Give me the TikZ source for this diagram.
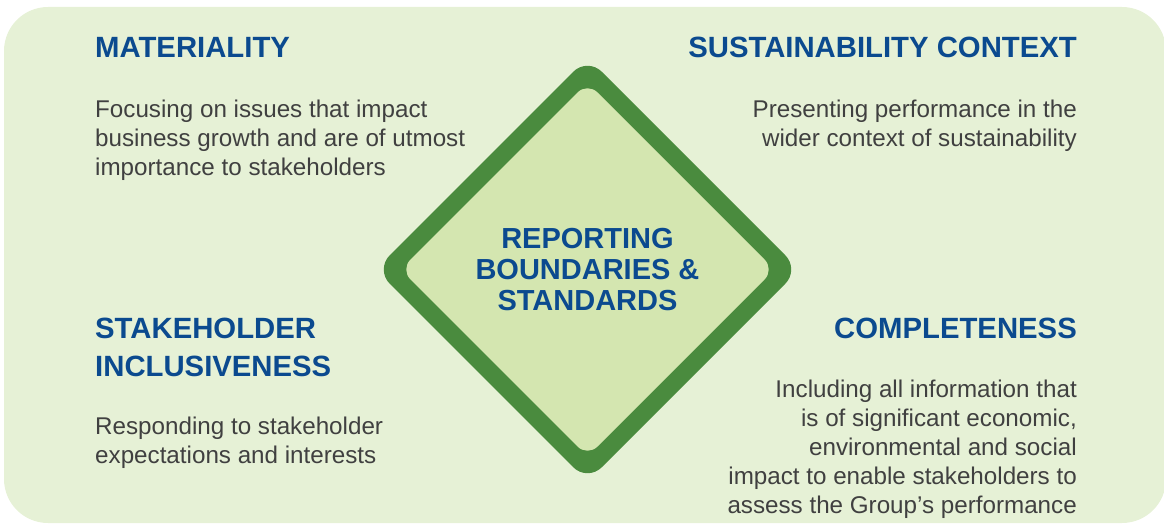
\documentclass[tikz,border=0pt]{standalone}
\usepackage{fontspec}
\setmainfont{Liberation Sans}
\definecolor{bggreen}{HTML}{E6F1D6}
\definecolor{ringgreen}{HTML}{4A8B3E}
\definecolor{innergreen}{HTML}{D4E6B0}
\definecolor{titleblue}{HTML}{0B4A8F}
\definecolor{bodygray}{HTML}{404040}
\begin{document}
\begin{tikzpicture}[x=1pt,y=-1pt,
  titletext/.style={font=\fontsize{29.3}{38}\selectfont\bfseries, text=titleblue, inner sep=0pt},
  bodytext/.style={font=\fontsize{24.2}{29}\selectfont, text=bodygray, inner sep=0pt},
  centertext/.style={font=\fontsize{29}{31}\selectfont\bfseries, text=titleblue, inner sep=0pt, align=center}]
\useasboundingbox (0,0) rectangle (1164,524);
% background panel
\fill[bggreen, rounded corners=44pt] (4,7) rectangle (1166,523);
% diamond ring and inner diamond
\coordinate (c) at (587.5,269.5);
\fill[ringgreen, rounded corners=20pt] (587.5,57.5) -- (799.5,269.5) -- (587.5,481.5) -- (375.5,269.5) -- cycle;
\fill[innergreen, rounded corners=14pt] (587.5,82.5) -- (774.5,269.5) -- (587.5,456.5) -- (400.5,269.5) -- cycle;
\node[centertext] (center) at (c) {REPORTING\\BOUNDARIES \&\\STANDARDS};
% materiality
\node[titletext, anchor=north west] (mat) at (95,37) {MATERIALITY};
\node[bodytext, anchor=north west, align=left] (matb) at (95,100) {Focusing on issues that impact\\business growth and are of utmost\\importance to stakeholders};
% sustainability context
\node[titletext, anchor=north east] (sus) at (1077,37) {SUSTAINABILITY CONTEXT};
\node[bodytext, anchor=north east, align=right] (susb) at (1077,100) {Presenting performance in the\\wider context of sustainability};
% stakeholder inclusiveness
\node[titletext, anchor=north west, align=left] (sta) at (95,318) {STAKEHOLDER\\INCLUSIVENESS};
\node[bodytext, anchor=north west, align=left] (stab) at (95,417) {Responding to stakeholder\\expectations and interests};
% completeness
\node[titletext, anchor=north east] (com) at (1077,318) {COMPLETENESS};
\node[bodytext, anchor=north east, align=right] (comb) at (1077,380) {Including all information that\\is of significant economic,\\environmental and social\\impact to enable stakeholders to\\assess the Group’s performance};
\end{tikzpicture}
\end{document}
